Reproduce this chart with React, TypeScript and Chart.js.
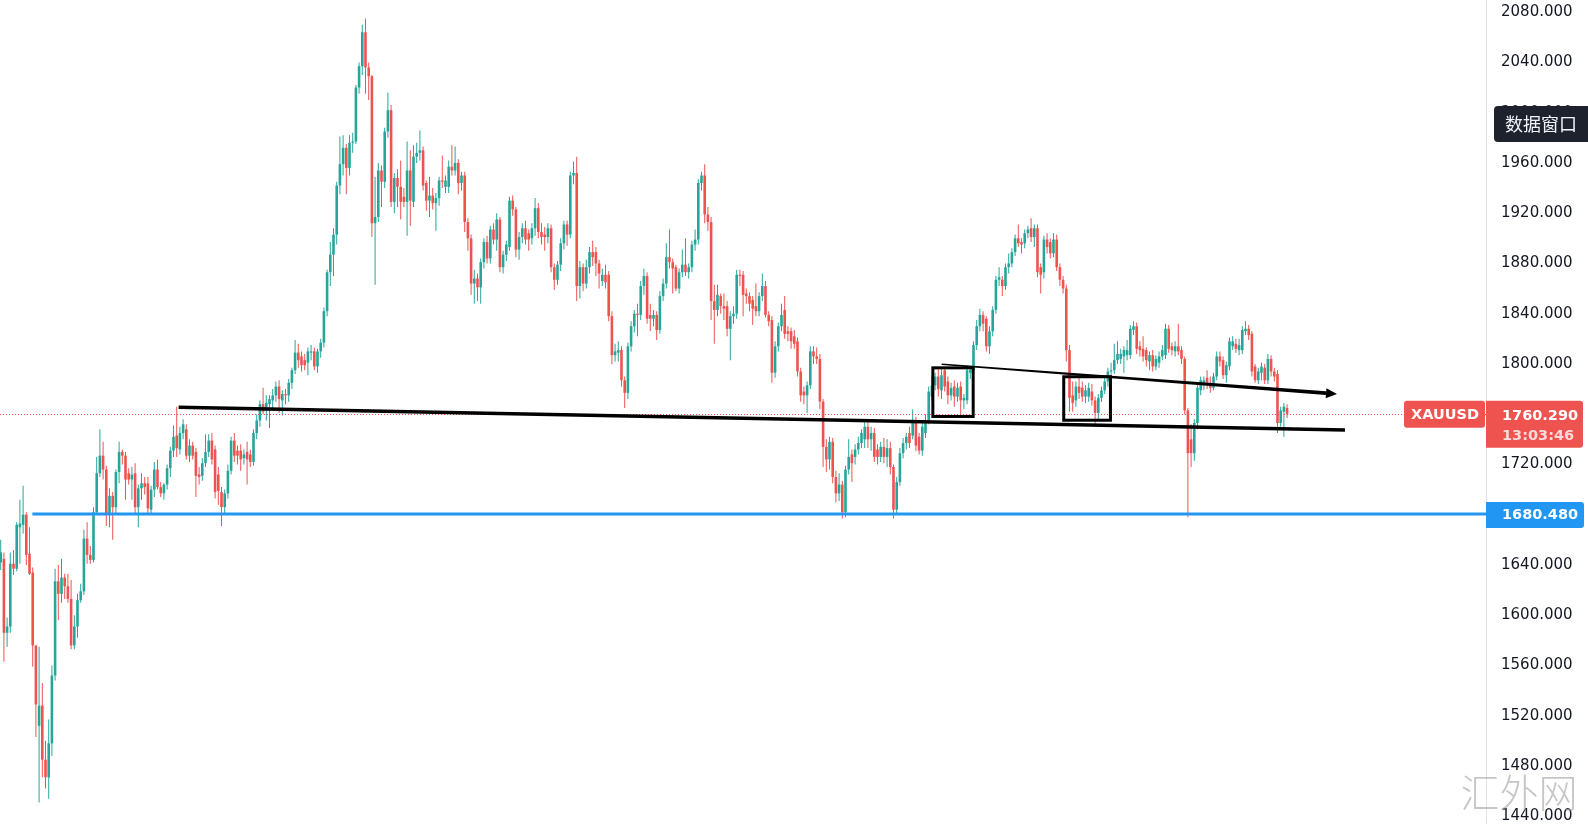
import React, { useEffect, useRef } from "react";
import { Chart, registerables } from "chart.js";

Chart.register(...registerables);

// XAUUSD daily candles: [open, high, low, close]
const candlesSpring2020: number[][] = [
  [1642,1660,1636,1650],[1645,1650,1563,1586],[1586,1598,1575,1591],[1591,1650,1586,1641],[1641,1652,1632,1637],
  [1637,1674,1635,1672],[1670,1692,1641,1673],[1672,1703,1665,1680],[1680,1682,1640,1648],[1649,1670,1632,1633],
  [1634,1638,1559,1576],[1576,1576,1503,1529],[1512,1575,1451,1528],[1528,1546,1471,1485],[1485,1500,1462,1471],
  [1471,1517,1454,1498],[1498,1560,1488,1552],[1552,1637,1548,1627],[1627,1640,1596,1617],[1617,1645,1610,1630],
  [1630,1633,1613,1623],[1623,1633,1610,1613],[1613,1628,1573,1576],[1576,1600,1573,1591],[1591,1617,1582,1612],
  [1612,1625,1610,1619],[1619,1668,1616,1661],[1661,1674,1641,1648],[1648,1655,1641,1644],[1644,1686,1642,1682],
  [1682,1726,1680,1713],[1713,1748,1710,1727],[1727,1738,1708,1716],[1716,1719,1671,1681],[1681,1701,1670,1695],
  [1695,1698,1660,1686],[1686,1716,1680,1714],[1714,1738,1705,1730],[1730,1732,1720,1727],[1727,1730,1692,1708],
  [1713,1717,1704,1708],[1708,1718,1692,1712],[1713,1721,1681,1686],[1686,1704,1670,1701],[1701,1713,1692,1705],
  [1705,1710,1696,1702],[1705,1710,1681,1685],[1684,1703,1680,1700],[1700,1722,1694,1716],[1716,1724,1700,1702],
  [1702,1706,1694,1697],[1697,1705,1692,1704],[1704,1720,1700,1717],[1717,1734,1710,1731],[1731,1751,1726,1742],
  [1743,1766,1726,1733],
];

const candlesSummer2020: number[][] = [
  [1732,1750,1728,1745],[1745,1756,1740,1752],[1748,1752,1724,1727],[1727,1740,1722,1735],[1735,1738,1724,1727],
  [1730,1733,1694,1711],[1712,1718,1704,1710],[1711,1725,1707,1721],[1721,1744,1718,1730],[1730,1744,1726,1739],
  [1739,1745,1720,1724],[1732,1735,1693,1698],[1712,1718,1688,1699],[1698,1702,1671,1686],[1686,1700,1680,1697],
  [1697,1720,1693,1715],[1715,1742,1712,1739],[1739,1745,1722,1727],[1731,1735,1720,1727],[1731,1736,1715,1724],
  [1725,1732,1720,1728],[1730,1738,1704,1724],[1728,1732,1718,1722],[1722,1748,1719,1745],[1745,1760,1740,1755],
  [1755,1771,1750,1768],[1768,1781,1760,1762],[1763,1775,1755,1769],[1768,1775,1749,1772],[1771,1780,1765,1775],
  [1775,1786,1770,1782],[1782,1787,1761,1772],[1771,1779,1759,1776],[1776,1780,1768,1775],[1775,1788,1770,1785],
  [1785,1797,1780,1795],[1795,1819,1792,1809],[1809,1816,1797,1803],[1806,1810,1794,1799],[1803,1808,1795,1799],
  [1801,1813,1791,1810],[1809,1815,1803,1810],[1810,1813,1795,1798],[1798,1812,1793,1810],[1810,1820,1805,1817],
  [1817,1845,1813,1842],[1842,1875,1838,1873],[1873,1897,1862,1887],[1887,1908,1870,1903],[1903,1945,1895,1942],
  [1942,1981,1935,1959],[1959,1982,1950,1972],[1972,1975,1935,1956],[1956,1982,1950,1976],[1976,1984,1968,1977],
  [1977,2022,1975,2020],[2020,2040,2015,2037],[2037,2070,2030,2064],[2064,2075,2015,2036],[2036,2040,2010,2029],
  [2029,2030,1901,1912],[1912,1949,1863,1917],[1917,1960,1913,1954],[1954,1958,1925,1945],[1945,1988,1940,1985],
  [1985,2016,1980,2002],[2002,2006,1925,1929],[1929,1952,1920,1948],[1948,1955,1925,1941],[1941,1962,1915,1929],
];

const candlesAutumn2020: number[][] = [
  [1933,1940,1925,1929],[1929,1977,1902,1954],[1954,1970,1910,1930],[1929,1974,1925,1965],[1965,1976,1960,1968],
  [1968,1986,1962,1970],[1970,1973,1938,1942],[1944,1946,1922,1930],[1930,1949,1917,1934],[1934,1940,1923,1928],
  [1928,1936,1906,1932],[1932,1949,1926,1946],[1946,1966,1940,1945],[1941,1950,1936,1946],[1941,1962,1936,1957],
  [1957,1974,1950,1954],[1954,1973,1950,1960],[1960,1963,1935,1944],[1944,1953,1938,1950],[1950,1953,1905,1913],
  [1913,1916,1890,1900],[1900,1903,1855,1864],[1864,1875,1848,1868],[1868,1872,1850,1861],[1861,1884,1848,1881],
  [1881,1900,1876,1897],[1897,1902,1880,1884],[1884,1910,1880,1907],[1907,1912,1895,1899],[1899,1920,1890,1915],
  [1915,1917,1873,1877],[1877,1890,1872,1887],[1887,1898,1882,1895],[1893,1933,1890,1930],[1930,1934,1918,1923],
  [1923,1925,1885,1891],[1891,1905,1883,1901],[1901,1912,1896,1908],[1908,1914,1895,1899],[1904,1907,1890,1899],
  [1900,1912,1895,1908],[1908,1932,1902,1924],[1924,1928,1900,1905],[1905,1912,1895,1901],[1903,1909,1890,1901],
  [1901,1912,1896,1908],[1908,1911,1873,1877],[1877,1880,1859,1867],[1867,1882,1863,1879],[1879,1900,1874,1896],
  [1896,1914,1891,1911],[1911,1914,1894,1903],[1903,1953,1900,1950],[1950,1961,1943,1952],[1952,1965,1850,1862],
  [1862,1882,1852,1877],[1877,1880,1858,1864],[1864,1883,1860,1877],[1877,1893,1872,1889],[1889,1898,1878,1885],
  [1889,1893,1870,1880],[1880,1883,1860,1872],[1866,1876,1862,1871],[1871,1879,1860,1865],[1871,1874,1834,1838],
  [1838,1842,1800,1807],[1807,1816,1802,1810],[1809,1818,1802,1811],[1811,1814,1782,1787],
];

const candlesWinter2021: number[][] = [
  [1787,1790,1765,1777],[1777,1817,1772,1814],[1814,1834,1810,1830],[1830,1843,1825,1840],[1840,1848,1822,1839],
  [1839,1866,1835,1862],[1862,1876,1855,1870],[1870,1873,1832,1836],[1839,1848,1826,1836],[1836,1843,1830,1839],
  [1839,1842,1819,1827],[1827,1858,1824,1854],[1854,1868,1850,1864],[1864,1896,1860,1885],[1885,1907,1876,1881],
  [1881,1884,1856,1876],[1877,1879,1858,1860],[1860,1876,1856,1873],[1873,1891,1869,1879],[1879,1900,1870,1873],
  [1873,1880,1868,1877],[1877,1898,1873,1895],[1895,1907,1890,1899],[1899,1947,1895,1944],[1944,1953,1938,1950],
  [1950,1959,1912,1919],[1919,1925,1906,1913],[1913,1917,1835,1850],[1850,1863,1816,1843],[1843,1863,1838,1855],
  [1854,1856,1840,1846],[1846,1856,1835,1844],[1846,1850,1822,1828],[1828,1842,1803,1838],[1838,1846,1832,1840],
  [1840,1875,1836,1871],[1871,1875,1862,1870],[1871,1874,1838,1855],[1856,1860,1848,1854],[1854,1857,1842,1848],
  [1851,1854,1831,1844],[1846,1864,1838,1842],[1842,1857,1838,1854],[1854,1872,1850,1862],[1862,1866,1837,1839],
  [1839,1842,1830,1834],[1835,1838,1785,1793],[1793,1818,1789,1814],[1814,1833,1810,1830],[1830,1848,1826,1839],
  [1843,1854,1820,1824],[1826,1830,1818,1824],[1826,1829,1812,1818],[1822,1827,1812,1816],[1818,1821,1790,1794],
  [1794,1797,1770,1775],[1778,1782,1768,1775],[1775,1786,1761,1783],[1783,1814,1780,1810],[1810,1814,1800,1806],
  [1806,1813,1800,1804],[1804,1808,1764,1770],[1770,1772,1718,1734],[1734,1740,1714,1724],[1724,1742,1716,1738],
  [1738,1741,1705,1710],[1710,1715,1690,1697],[1697,1713,1691,1704],[1704,1707,1677,1682],[1682,1719,1678,1716],
  [1716,1740,1712,1726],[1728,1732,1706,1721],[1726,1736,1720,1732],[1732,1742,1728,1737],[1737,1748,1733,1745],
  [1740,1755,1733,1750],[1750,1755,1733,1740],[1740,1750,1731,1745],[1745,1749,1722,1726],[1732,1736,1720,1726],
  [1726,1738,1722,1734],[1734,1741,1721,1726],[1726,1740,1718,1733],[1733,1738,1712,1718],[1718,1720,1677,1684],
];

const candlesSpringSummer2021: number[][] = [
  [1684,1710,1680,1706],[1706,1733,1703,1729],[1729,1741,1725,1737],[1737,1745,1732,1742],[1745,1750,1733,1737],
  [1743,1764,1740,1754],[1754,1758,1731,1735],[1742,1745,1728,1731],[1731,1753,1727,1750],[1745,1760,1741,1755],
  [1755,1782,1752,1778],[1774,1790,1770,1783],[1783,1793,1779,1790],[1790,1797,1774,1780],[1779,1797,1772,1791],
  [1795,1797,1778,1782],[1786,1790,1768,1775],[1775,1785,1771,1781],[1782,1787,1766,1774],[1774,1785,1770,1781],
  [1782,1786,1760,1771],[1771,1776,1764,1773],[1771,1799,1768,1795],[1793,1797,1788,1795],[1795,1818,1790,1815],
  [1815,1835,1811,1830],[1830,1844,1826,1839],[1839,1842,1826,1832],[1836,1838,1810,1814],[1814,1830,1808,1826],
  [1826,1846,1822,1843],[1843,1870,1840,1867],[1867,1877,1862,1869],[1867,1870,1854,1862],[1862,1880,1859,1877],
  [1877,1888,1872,1880],[1880,1892,1877,1889],[1889,1903,1886,1900],[1900,1911,1893,1896],[1897,1900,1888,1895],
  [1896,1907,1892,1904],[1904,1910,1900,1907],[1908,1916,1897,1901],[1901,1911,1893,1908],[1908,1911,1869,1873],
  [1877,1880,1856,1871],[1873,1902,1868,1899],[1899,1904,1888,1893],[1897,1900,1884,1888],[1888,1904,1885,1899],
  [1899,1903,1874,1877],[1877,1880,1862,1867],[1867,1870,1856,1860],[1860,1863,1802,1811],[1811,1815,1762,1773],
  [1775,1786,1762,1769],[1771,1786,1766,1782],[1782,1790,1772,1777],[1781,1786,1770,1774],[1774,1783,1769,1779],
  [1774,1785,1770,1781],[1778,1784,1767,1771],[1771,1774,1751,1761],[1761,1776,1756,1773],[1773,1782,1770,1779],
  [1779,1789,1776,1786],[1786,1797,1782,1794],[1794,1801,1790,1795],[1795,1816,1792,1803],[1803,1818,1800,1808],
  [1804,1812,1800,1808],[1806,1814,1793,1811],[1807,1819,1803,1811],[1807,1831,1804,1828],[1827,1834,1823,1830],
  [1830,1833,1808,1812],[1814,1818,1806,1811],[1812,1822,1802,1806],[1811,1813,1798,1803],[1802,1810,1795,1807],
  [1807,1811,1794,1798],[1798,1807,1795,1804],[1801,1810,1797,1806],[1806,1815,1803,1811],[1807,1832,1804,1828],
  [1828,1831,1809,1812],[1814,1817,1807,1811],[1810,1818,1806,1814],[1814,1832,1807,1810],[1811,1814,1800,1804],
  [1804,1806,1760,1763],[1763,1765,1678,1729],[1740,1752,1718,1729],[1729,1756,1723,1753],[1753,1783,1748,1781],
  [1779,1790,1775,1787],[1783,1790,1779,1787],[1789,1795,1780,1785],[1785,1790,1777,1781],[1781,1793,1779,1790],
  [1790,1810,1787,1806],[1806,1810,1798,1802],[1803,1806,1788,1791],[1791,1802,1785,1799],[1798,1821,1795,1818],
  [1814,1822,1811,1818],[1816,1820,1809,1812],[1811,1820,1807,1815],[1811,1830,1808,1827],[1826,1834,1823,1828],
  [1828,1831,1819,1823],[1824,1826,1790,1794],[1798,1800,1785,1787],[1787,1797,1784,1794],[1793,1801,1787,1798],
  [1797,1800,1784,1787],[1787,1808,1784,1804],[1804,1807,1790,1794],[1794,1797,1786,1790],[1792,1795,1745,1753],
  [1753,1766,1750,1763],[1762,1769,1742,1766],[1765,1768,1757,1760.29],
];

const candles: number[][] = [
  ...candlesSpring2020,
  ...candlesSummer2020,
  ...candlesAutumn2020,
  ...candlesWinter2021,
  ...candlesSpringSummer2021,
];

const priceTicks: number[] = [1440, 1480, 1520, 1560, 1600, 1640, 1680, 1720, 1760, 1800, 1840, 1880, 1920, 1960, 2000, 2040, 2080];

const symbolName = "XAUUSD";
const lastPrice = 1760.29;
const countdownText = "13:03:46";
const supportPrice = 1680.48;
const supportStartIndex = 9.9;
const dataWindowText = "数据窗口";
const watermarkText = "汇外网";

// drawn annotations in (candle index, price) coordinates
const lowerTrendLine = [ { x: 55.6, y: 1765.5 }, { x: 420.1, y: 1747.5 } ];
const upperTrendLine = [ { x: 294.06, y: 1799.7 }, { x: 417.6, y: 1776.1 } ];
const consolidationBoxes = [
  { x1: 291.3, x2: 303.9, y1: 1796.9, y2: 1758.2 },
  { x1: 332.2, x2: 346.8, y1: 1789.8, y2: 1755.2 },
];

const UP = "#26a69a";
const DOWN = "#ef5350";
const BLUE = "#2196f3";

function roundRect(ctx: CanvasRenderingContext2D, x: number, y: number, w: number, h: number, r: number[]) {
  ctx.beginPath();
  ctx.roundRect(x, y, w, h, r);
  ctx.fill();
}

const overlayPlugin = {
  id: "overlay",
  afterDraw(chart: any) {
    const ctx: CanvasRenderingContext2D = chart.ctx;
    const xs = chart.scales.x;
    const ys = chart.scales.y;
    const area = chart.chartArea;
    const px = (v: number) => xs.getPixelForValue(v);
    const py = (v: number) => ys.getPixelForValue(v);

    ctx.save();
    ctx.beginPath();
    ctx.rect(area.left, area.top, area.right - area.left, area.bottom - area.top);
    ctx.clip();

    // last price dotted line
    const yLast = py(lastPrice);
    ctx.strokeStyle = DOWN;
    ctx.lineWidth = 1;
    ctx.setLineDash([1, 2]);
    ctx.beginPath();
    ctx.moveTo(area.left, Math.round(yLast) + 0.5);
    ctx.lineTo(area.right, Math.round(yLast) + 0.5);
    ctx.stroke();
    ctx.setLineDash([]);

    // support line
    const ySup = py(supportPrice);
    ctx.strokeStyle = BLUE;
    ctx.lineWidth = 3;
    ctx.beginPath();
    ctx.moveTo(px(supportStartIndex), ySup);
    ctx.lineTo(area.right, ySup);
    ctx.stroke();

    // lower trend line
    ctx.strokeStyle = "#000";
    ctx.lineWidth = 3.5;
    ctx.beginPath();
    ctx.moveTo(px(lowerTrendLine[0].x), py(lowerTrendLine[0].y));
    ctx.lineTo(px(lowerTrendLine[1].x), py(lowerTrendLine[1].y));
    ctx.stroke();

    // upper trend line with arrow (tapered)
    const ax = px(upperTrendLine[0].x), ay = py(upperTrendLine[0].y);
    const bx = px(upperTrendLine[1].x), by = py(upperTrendLine[1].y);
    const len = Math.hypot(bx - ax, by - ay);
    const dx = (bx - ax) / len, dy = (by - ay) / len;
    const nx = -dy, ny = dx;
    const headLen = 11, headHalf = 5;
    const cx = bx - dx * headLen, cy = by - dy * headLen;
    const w1 = 0.8, w2 = 1.9;
    ctx.fillStyle = "#000";
    ctx.beginPath();
    ctx.moveTo(ax + nx * w1, ay + ny * w1);
    ctx.lineTo(cx + nx * w2, cy + ny * w2);
    ctx.lineTo(cx - nx * w2, cy - ny * w2);
    ctx.lineTo(ax - nx * w1, ay - ny * w1);
    ctx.closePath();
    ctx.fill();
    ctx.beginPath();
    ctx.moveTo(bx, by);
    ctx.lineTo(cx + nx * headHalf, cy + ny * headHalf);
    ctx.lineTo(cx - nx * headHalf, cy - ny * headHalf);
    ctx.closePath();
    ctx.fill();

    // rectangles
    ctx.strokeStyle = "#000";
    ctx.lineWidth = 3;
    for (const b of consolidationBoxes) {
      const x1 = px(b.x1), x2 = px(b.x2), y1 = py(b.y1), y2 = py(b.y2);
      ctx.strokeRect(x1, y1, x2 - x1, y2 - y1);
    }
    ctx.restore();

    // price labels
    ctx.save();
    ctx.textBaseline = "middle";
    ctx.textAlign = "left";
    const axisLeft = ys.left;
    // symbol label
    ctx.fillStyle = DOWN;
    roundRect(ctx, axisLeft - 82, yLast - 13, 81, 27, [3, 3, 3, 3]);
    ctx.fillStyle = "#ffffff";
    ctx.font = "bold 14.5px 'DejaVu Sans', sans-serif";
    ctx.fillText(symbolName, axisLeft - 75, yLast + 1);
    // last price + countdown
    ctx.fillStyle = DOWN;
    roundRect(ctx, axisLeft, yLast - 13, 97, 47, [0, 3, 3, 0]);
    ctx.fillStyle = "#ffffff";
    ctx.fillText(lastPrice.toFixed(3), axisLeft + 16, yLast + 2);
    ctx.fillStyle = "rgba(255,255,255,0.78)";
    ctx.fillText(countdownText, axisLeft + 16, yLast + 22);
    // support label
    ctx.fillStyle = BLUE;
    roundRect(ctx, axisLeft, ySup - 12, 98, 26, [0, 3, 3, 0]);
    ctx.fillStyle = "#ffffff";
    ctx.fillText(supportPrice.toFixed(3), axisLeft + 16, ySup + 1);

    // data window button
    ctx.fillStyle = "#1e222d";
    roundRect(ctx, axisLeft + 8, 106, chart.width - axisLeft - 8 + 4, 36, [4, 0, 0, 4]);
    ctx.fillStyle = "#f0f3fa";
    ctx.font = "18px 'Noto Sans CJK SC', sans-serif";
    ctx.fillText(dataWindowText, axisLeft + 19, 124.5);

    // watermark
    ctx.fillStyle = "rgba(160,160,160,0.6)";
    ctx.font = "300 39px 'Noto Sans CJK SC', sans-serif";
    ctx.textAlign = "center";
    ctx.fillText(watermarkText, 1519, 792);
    ctx.restore();
  },
};

export default function App() {
  const canvasRef = useRef<HTMLCanvasElement | null>(null);

  useEffect(() => {
    const canvas = canvasRef.current;
    if (!canvas) return;
    const colors = candles.map((c) => (c[3] >= c[0] ? UP : DOWN));
    const chart = new Chart(canvas, {
      type: "bar",
      data: {
        datasets: [
          {
            label: "body",
            data: candles.map((c, i) => ({ x: i, y: [c[0], c[3]] })) as any,
            backgroundColor: colors,
            borderWidth: 0,
            barThickness: 2.6,
            minBarLength: 1,
            grouped: false,
            inflateAmount: 0,
          } as any,
          {
            label: "wick",
            data: candles.map((c, i) => ({ x: i, y: [c[2], c[1]] })) as any,
            backgroundColor: colors,
            borderWidth: 0,
            barThickness: 1,
            grouped: false,
            inflateAmount: 0,
          } as any,
        ],
      },
      options: {
        animation: false,
        responsive: false,
        maintainAspectRatio: false,
        layout: { padding: 0 },
        plugins: { legend: { display: false }, tooltip: { enabled: false } },
        scales: {
          x: { type: "linear", min: -0.22, max: 464.16, display: false, offset: false },
          y: {
            position: "right",
            min: 1433.83,
            max: 2089.67,
            grid: { display: false, drawTicks: false },
            border: { display: true, color: "#e0e3eb", width: 1 },
            ticks: {
              autoSkip: false,
              padding: 15,
              color: "#131722",
              font: { family: "'DejaVu Sans', sans-serif", size: 15 },
              callback: (v: any) => Number(v).toFixed(3),
            },
            afterBuildTicks: (s: any) => {
              s.ticks = priceTicks.map((v) => ({ value: v }));
            },
            afterFit: (s: any) => {
              s.width = 102;
              s.paddingTop = 0;
              s.paddingBottom = 0;
            },
          } as any,
        },
      } as any,
      plugins: [overlayPlugin],
    });
    return () => chart.destroy();
  }, []);

  return (
    <div style={{ position: "fixed", left: 0, top: 0, width: 1588, height: 824, background: "#ffffff" }}>
      <canvas ref={canvasRef} width={1588} height={824} style={{ display: "block" }} />
    </div>
  );
}
